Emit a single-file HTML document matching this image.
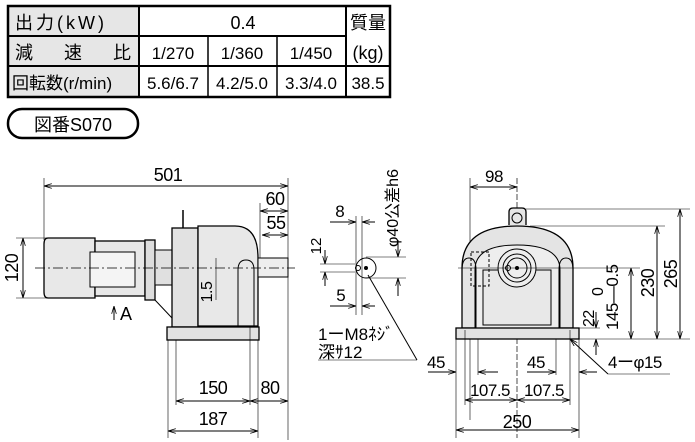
<!DOCTYPE html>
<html><head><meta charset="utf-8"><style>
body{margin:0;background:#fff;width:695px;height:442px;overflow:hidden;font-family:"Liberation Sans","Noto Sans CJK JP",sans-serif}
svg{position:absolute;left:0;top:0}
text{font-family:"Liberation Sans","Noto Sans CJK JP",sans-serif;fill:#000}
</style></head><body>
<svg width="695" height="442" viewBox="0 0 695 442">
<defs>
<marker id="a" viewBox="0 0 10 6" refX="10" refY="3" markerWidth="8" markerHeight="5" orient="auto-start-reverse"><path d="M0,0 L10,3 L0,6" fill="none" stroke="#000" stroke-width="1"/></marker>
</defs>
<rect x="8" y="6" width="131" height="91" fill="#e6e6e6"/>
<g stroke="#000" fill="none">
<rect x="8" y="6" width="382" height="91" stroke-width="2.5"/>
<line x1="139" y1="6" x2="139" y2="97" stroke-width="2"/>
<line x1="346" y1="6" x2="346" y2="97" stroke-width="2"/>
<line x1="8" y1="36" x2="346" y2="36" stroke-width="2"/>
<line x1="8" y1="66" x2="390" y2="66" stroke-width="2"/>
<line x1="208" y1="36" x2="208" y2="97" stroke-width="1.5"/>
<line x1="277" y1="36" x2="277" y2="97" stroke-width="1.5"/>
</g>
<g font-size="18">
<text x="15" y="29" letter-spacing="3">出力(kW)</text>
<text x="15" y="59">減</text><text x="64" y="59">速</text><text x="113" y="59">比</text>
<text x="12" y="89" font-size="17">回転数(r/min)</text>
<text x="243" y="29" text-anchor="middle">0.4</text>
<text x="368" y="29" text-anchor="middle">質量</text>
<text x="368" y="59" text-anchor="middle">(kg)</text>
<text x="173" y="59" text-anchor="middle" font-size="17">1/270</text>
<text x="242" y="59" text-anchor="middle" font-size="17">1/360</text>
<text x="311" y="59" text-anchor="middle" font-size="17">1/450</text>
<text x="173" y="89" text-anchor="middle" font-size="17">5.6/6.7</text>
<text x="242" y="89" text-anchor="middle" font-size="17">4.2/5.0</text>
<text x="311" y="89" text-anchor="middle" font-size="17">3.3/4.0</text>
<text x="368" y="89" text-anchor="middle" font-size="17">38.5</text>
</g>
<rect x="8" y="109" width="130" height="29" rx="14" fill="none" stroke="#000" stroke-width="2.5"/>
<text x="73" y="131" font-size="18" text-anchor="middle">図番S070</text>

<g stroke="#000" stroke-width="1" fill="none">
<line x1="44" y1="178" x2="44" y2="240" stroke-width=".6"/>
<line x1="288" y1="178" x2="288" y2="440" stroke-width=".6"/>
<line x1="44" y1="186" x2="288" y2="186" marker-start="url(#a)" marker-end="url(#a)"/>
<line x1="260" y1="203" x2="260" y2="275" stroke-width=".6"/>
<line x1="260" y1="211" x2="288" y2="211" marker-start="url(#a)" marker-end="url(#a)"/>
<line x1="262" y1="235" x2="288" y2="235" marker-start="url(#a)" marker-end="url(#a)"/>
<line x1="16" y1="238" x2="50" y2="238" stroke-width=".6"/>
<line x1="16" y1="298" x2="50" y2="298" stroke-width=".6"/>
<line x1="23" y1="238" x2="23" y2="298" marker-start="url(#a)" marker-end="url(#a)"/>
<path d="M48,238 H95 V298 H48 Q44,298 44,292 V244 Q44,238 48,238Z" fill="#e8e8e8" stroke-width="1.3"/>
<rect x="95" y="241" width="50" height="55" fill="#e8e8e8" stroke-width="1.3"/>
<rect x="90" y="252" width="45" height="35" fill="#f4f4f4"/>
<rect x="145" y="240" width="10" height="60" fill="#ddd" stroke-width="1.3"/>
<rect x="155" y="250" width="17" height="35" fill="#e0e0e0"/>
<path d="M155,300 L172,318" />
<rect x="172" y="228" width="26" height="99" fill="#e2e2e2" stroke-width="1.3"/>
<line x1="183" y1="210" x2="183" y2="228" stroke-width="1.5"/>
<path d="M198,226 H235 Q258,226 258,258 V326 H198Z" fill="#e8e8e8" stroke-width="1.3"/>
<path d="M238,326 V270 Q238,260 246,260 Q254,260 254,270 V326" />
<rect x="167" y="327" width="92" height="13" fill="#e2e2e2" stroke-width="1.3"/>
<rect x="258" y="258" width="30" height="19" fill="#eee"/>
<line x1="35" y1="268" x2="295" y2="268" stroke-dasharray="10,3,2,3" stroke-width=".7"/>
<line x1="114" y1="320" x2="114" y2="306" marker-end="url(#a)"/>
<line x1="216" y1="258" x2="216" y2="300" stroke-width=".6"/>
<line x1="168" y1="340" x2="168" y2="438" stroke-width=".6"/>
<line x1="176" y1="340" x2="176" y2="405" stroke-width=".6"/>
<line x1="250" y1="327" x2="250" y2="405" stroke-width=".6"/>
<line x1="258" y1="340" x2="258" y2="438" stroke-width=".6"/>
<line x1="176" y1="401" x2="250" y2="401" marker-start="url(#a)" marker-end="url(#a)"/>
<line x1="250" y1="401" x2="288" y2="401" marker-start="url(#a)" marker-end="url(#a)"/>
<line x1="168" y1="431" x2="258" y2="431" marker-start="url(#a)" marker-end="url(#a)"/>
</g>
<g font-size="18" letter-spacing="-0.5">
<text x="168" y="181" text-anchor="middle">501</text>
<text x="275" y="205" text-anchor="middle">60</text>
<text x="276" y="229" text-anchor="middle">55</text>
<text transform="translate(18,268) rotate(-90)" text-anchor="middle">120</text>
<text x="120" y="320">A</text>
<text transform="translate(212,292) rotate(-90)" text-anchor="middle" font-size="16">1.5</text>
<text x="213" y="394" text-anchor="middle">150</text>
<text x="270" y="394" text-anchor="middle">80</text>
<text x="213" y="425" text-anchor="middle">187</text>
</g>

<g stroke="#000" stroke-width="1" fill="none">
<circle cx="366" cy="268" r="10"/>
<circle cx="358" cy="268" r="2.5"/>
<circle cx="366" cy="268" r="1.5" fill="#000"/>
<line x1="356" y1="216" x2="356" y2="315" stroke-width=".6"/>
<line x1="362" y1="216" x2="362" y2="315" stroke-width=".6"/>
<line x1="330" y1="222" x2="356" y2="222" marker-end="url(#a)"/>
<line x1="375" y1="222" x2="362" y2="222" marker-end="url(#a)"/>
<line x1="330" y1="306" x2="356" y2="306" marker-end="url(#a)"/>
<line x1="375" y1="306" x2="362" y2="306" marker-end="url(#a)"/>
<line x1="320" y1="264" x2="355" y2="264" stroke-width=".6"/>
<line x1="320" y1="272" x2="355" y2="272" stroke-width=".6"/>
<line x1="325" y1="250" x2="325" y2="264" marker-end="url(#a)"/>
<line x1="325" y1="286" x2="325" y2="272" marker-end="url(#a)"/>
<line x1="366" y1="257" x2="406" y2="257" stroke-width=".6"/>
<line x1="366" y1="278" x2="406" y2="278" stroke-width=".6"/>
<line x1="398" y1="240" x2="398" y2="257" marker-end="url(#a)"/>
<line x1="398" y1="296" x2="398" y2="278" marker-end="url(#a)"/>
<line x1="368" y1="275" x2="417" y2="360"/>
<line x1="318" y1="360" x2="417" y2="360" stroke-width=".6"/>
</g>
<g font-size="17">
<text x="340" y="217" text-anchor="middle">8</text>
<text x="341" y="301" text-anchor="middle">5</text>
<text transform="translate(321,246) rotate(-90)" text-anchor="middle" font-size="15">12</text>
<text transform="translate(398,247) rotate(-90)" font-size="16">φ40公差h6</text>
<text x="318" y="340">1ーM8ﾈｼﾞ</text>
<text x="318" y="358">深ｻ12</text>
</g>

<g stroke="#000" stroke-width="1" fill="none">
<line x1="470" y1="178" x2="470" y2="420" stroke-width=".6"/>
<line x1="517" y1="178" x2="517" y2="438" stroke-dasharray="6,2" stroke-width=".7"/>
<line x1="470" y1="187" x2="517" y2="187" marker-start="url(#a)" marker-end="url(#a)"/>
<path d="M509,225 V212 Q509,208 513,208 H522 Q526,208 526,212 V225" fill="#e6e6e6" stroke-width="1.3"/>
<circle cx="517" cy="218" r="5"/>
<path d="M462,328 V268 Q462,226 517,226 Q573,226 573,268 V328 Z" fill="#e4e4e4" stroke-width="1.3"/>
<path d="M475,328 V270 Q475,245 517,245 Q560,245 560,270 V328" fill="#eee"/>
<rect x="483" y="270" width="68" height="55" fill="#e8e8e8"/>
<circle cx="517" cy="268" r="19" fill="#eee"/>
<circle cx="517" cy="268" r="14"/>
<circle cx="517" cy="268" r="10"/>
<circle cx="517" cy="268" r="1.5" fill="#000"/>
<circle cx="508" cy="268" r="2.5"/>
<path d="M462,328 V270 Q462,258 469,258 Q476,258 476,270 V328"/>
<path d="M559,328 V270 Q559,258 566,258 Q573,258 573,270 V328"/>
<rect x="471" y="252" width="18" height="34" stroke-dasharray="3,2"/>
<rect x="456" y="328" width="123" height="11" fill="#e2e2e2" stroke-width="1.3"/>
<line x1="458" y1="268" x2="640" y2="268" stroke-width=".6"/>
<line x1="526" y1="209" x2="690" y2="209" stroke-width=".6"/>
<line x1="530" y1="226" x2="665" y2="226" stroke-width=".6"/>
<line x1="579" y1="339" x2="690" y2="339" stroke-width=".6"/>
<line x1="579" y1="328" x2="600" y2="328" stroke-width=".6"/>
<line x1="680" y1="209" x2="680" y2="339" marker-start="url(#a)" marker-end="url(#a)"/>
<line x1="657" y1="226" x2="657" y2="339" marker-start="url(#a)" marker-end="url(#a)"/>
<line x1="631" y1="268" x2="631" y2="339" marker-start="url(#a)" marker-end="url(#a)"/>
<line x1="596" y1="312" x2="596" y2="328" marker-end="url(#a)"/>
<line x1="596" y1="355" x2="596" y2="339" marker-end="url(#a)"/>
<line x1="456" y1="339" x2="456" y2="438" stroke-width=".6"/>
<line x1="465" y1="330" x2="465" y2="405" stroke-width=".6"/>
<line x1="478" y1="339" x2="478" y2="375" stroke-width=".6"/>
<line x1="556" y1="339" x2="556" y2="375" stroke-width=".6"/>
<line x1="570" y1="330" x2="570" y2="405" stroke-width=".6"/>
<line x1="579" y1="339" x2="579" y2="438" stroke-width=".6"/>
<line x1="428" y1="372" x2="456" y2="372" marker-end="url(#a)"/>
<line x1="498" y1="372" x2="478" y2="372" marker-end="url(#a)"/>
<line x1="527" y1="372" x2="556" y2="372" marker-end="url(#a)"/>
<line x1="597" y1="372" x2="579" y2="372" marker-end="url(#a)"/>
<line x1="465" y1="400" x2="517" y2="400" marker-start="url(#a)" marker-end="url(#a)"/>
<line x1="517" y1="400" x2="570" y2="400" marker-start="url(#a)" marker-end="url(#a)"/>
<line x1="456" y1="430" x2="579" y2="430" marker-start="url(#a)" marker-end="url(#a)"/>
<line x1="570" y1="339" x2="608" y2="374" marker-start="url(#a)"/>
<line x1="608" y1="374" x2="670" y2="374" stroke-width=".6"/>
</g>
<g font-size="18" letter-spacing="-0.5">
<text x="494" y="182" text-anchor="middle" font-size="17">98</text>
<text transform="translate(677,274) rotate(-90)" text-anchor="middle">265</text>
<text transform="translate(654,283) rotate(-90)" text-anchor="middle">230</text>
<text transform="translate(618,330) rotate(-90)" font-size="17">145—0.5</text>
<text transform="translate(603,296) rotate(-90)" font-size="16">0</text>
<text transform="translate(594,327) rotate(-90)" font-size="16">22</text>
<text x="436" y="368" text-anchor="middle" font-size="17">45</text>
<text x="536" y="368" text-anchor="middle" font-size="17">45</text>
<text x="490" y="396" text-anchor="middle" font-size="17">107.5</text>
<text x="544" y="396" text-anchor="middle" font-size="17">107.5</text>
<text x="517" y="428" text-anchor="middle">250</text>
<text x="608" y="368" font-size="17">4ーφ15</text>
</g>
</svg>
</body></html>
